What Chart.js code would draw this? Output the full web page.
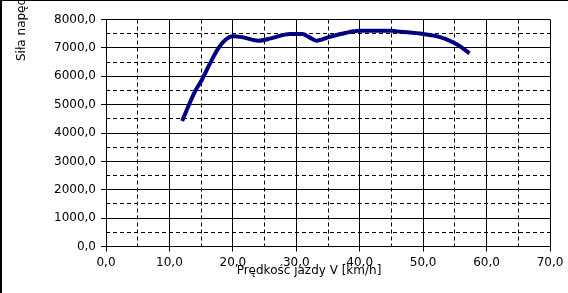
<!DOCTYPE html>
<html>
<head>
<meta charset="utf-8">
<script src="https://cdn.jsdelivr.net/npm/chart.js@4/dist/chart.umd.min.js"></script>
<style>
html,body{margin:0;padding:0;background:#fff;}
#wrap{width:568px;height:293px;position:relative;}
</style>
</head>
<body>
<div id="wrap"><canvas id="c" width="568" height="293"></canvas></div>
<script>
// Data
const speedKmh = [12.0, 13.0, 14.0, 15.1, 16.4, 17.7, 18.8, 20.0, 21.6, 24.0, 26.0, 29.0, 31.0, 32.0, 33.2, 35.3, 37.9, 40.0, 45.0, 46.4, 50.0, 52.0, 53.5, 55.5, 57.3];
const forceN   = [4420, 4950, 5450, 5870, 6455, 6984, 7276, 7410, 7370, 7252, 7336, 7490, 7490, 7380, 7252, 7393, 7535, 7600, 7600, 7570, 7490, 7420, 7320, 7100, 6810];
const xTitle = "Prędkość jazdy V [km/h]";
const yTitle = "Siła napędowa F [N]";
const xMin = 0, xMax = 70, xMinor = 5, xMajor = 10;
const yMin = 0, yMax = 8000, yMinor = 500, yMajor = 1000;

const fmt = v => v.toFixed(1).replace('.', ',');
const FONT = "'DejaVu Sans', sans-serif";

const gridPlugin = {
  id: 'gridPlugin',
  beforeDatasetsDraw(chart) {
    const ctx = chart.ctx, a = chart.chartArea;
    const xs = chart.scales.x, ys = chart.scales.y;
    ctx.save();
    ctx.strokeStyle = '#000';
    ctx.lineWidth = 1;
    for (let v = xMin; v <= xMax + 1e-9; v += xMinor) {
      const px = Math.floor(xs.getPixelForValue(v)) + 0.5;
      const major = Math.abs(v % xMajor) < 1e-9;
      ctx.setLineDash(major ? [] : [4, 3]);
      ctx.beginPath(); ctx.moveTo(px, a.top); ctx.lineTo(px, a.bottom); ctx.stroke();
    }
    for (let v = yMin; v <= yMax + 1e-9; v += yMinor) {
      const py = Math.floor(ys.getPixelForValue(v)) + 0.5;
      const major = Math.abs(v % yMajor) < 1e-9;
      ctx.setLineDash(major ? [] : [4, 3]);
      ctx.beginPath(); ctx.moveTo(a.left, py); ctx.lineTo(a.right, py); ctx.stroke();
    }
    ctx.restore();
  },
  afterDraw(chart) {
    const ctx = chart.ctx;
    ctx.save();
    ctx.fillStyle = '#000';
    ctx.font = '12px ' + FONT;
    ctx.textAlign = 'center';
    ctx.textBaseline = 'alphabetic';
    ctx.fillText(xTitle, 309, 274);
    ctx.translate(25, 61);
    ctx.rotate(-Math.PI / 2);
    ctx.textAlign = 'left';
    ctx.fillText(yTitle, 0, 0);
    ctx.restore();
    ctx.save();
    ctx.fillStyle = '#000';
    ctx.fillRect(0, 0, 2, 293);
    ctx.fillRect(0, 0, 568, 1);
    ctx.restore();
  }
};

new Chart(document.getElementById('c'), {
  type: 'line',
  data: {
    datasets: [{
      data: speedKmh.map((v, i) => ({x: v, y: forceN[i]})),
      borderColor: '#000080',
      borderWidth: 4,
      pointRadius: 0,
      cubicInterpolationMode: 'monotone',
      fill: false,
      borderCapStyle: 'butt'
    }]
  },
  options: {
    responsive: false,
    animation: false,
    layout: {padding: {left: 0, top: 19.5, right: 18, bottom: 0}},
    plugins: {legend: {display: false}, tooltip: {enabled: false}},
    scales: {
      x: {
        type: 'linear', min: xMin, max: xMax,
        afterFit: s => { s.height = 46.5; },
        ticks: {
          stepSize: xMinor, autoSkip: false, maxRotation: 0, padding: 4,
          color: '#000', font: {family: FONT, size: 12},
          callback: v => (Math.abs(v % xMajor) < 1e-9 ? fmt(v) : '')
        },
        grid: {
          drawOnChartArea: false, drawTicks: true, tickLength: 5,
          tickColor: c => (c.tick && Math.abs(c.tick.value % xMajor) < 1e-9 ? '#000' : 'rgba(0,0,0,0)')
        },
        border: {display: true, color: '#000', width: 1}
      },
      y: {
        type: 'linear', min: yMin, max: yMax,
        afterFit: s => { s.width = 106; },
        ticks: {
          stepSize: yMinor, autoSkip: false, padding: 5,
          color: '#000', font: {family: FONT, size: 12},
          callback: v => (Math.abs(v % yMajor) < 1e-9 ? fmt(v) : '')
        },
        grid: {
          drawOnChartArea: false, drawTicks: true, tickLength: 5,
          tickColor: c => (c.tick && Math.abs(c.tick.value % yMajor) < 1e-9 ? '#000' : 'rgba(0,0,0,0)')
        },
        border: {display: true, color: '#000', width: 1}
      }
    }
  },
  plugins: [gridPlugin]
});
</script>
</body>
</html>
